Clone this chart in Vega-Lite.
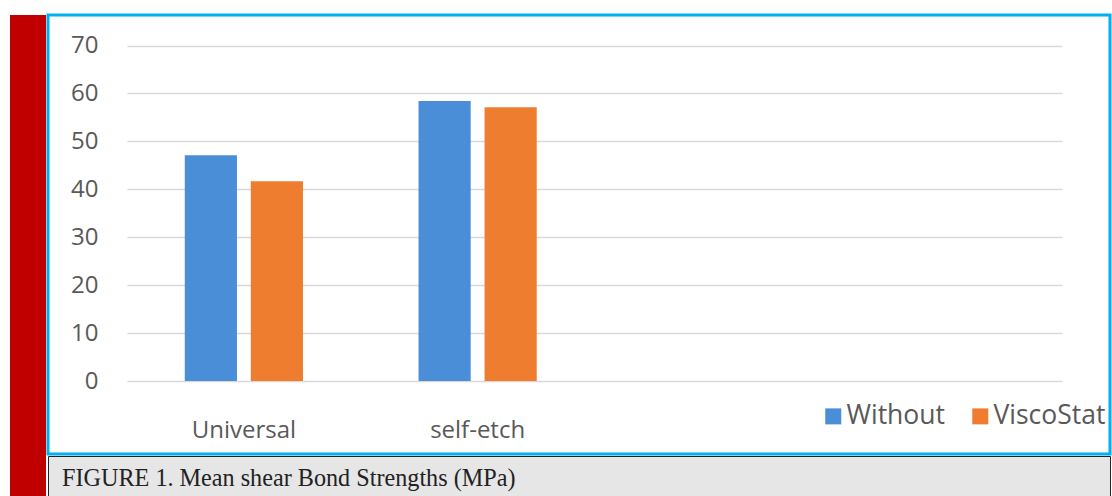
{
  "$schema": "https://vega.github.io/schema/vega-lite/v6.json",
  "background": "white",
  "padding": {"left": 10, "top": 13, "right": 0, "bottom": 0},
  "bounds": "flush",
  "spacing": 2,
  "hconcat": [
    {
      "width": 36,
      "height": 482,
      "view": {"fill": "#c00000", "stroke": null},
      "data": {"values": []},
      "mark": "rect",
      "encoding": {}
    },
    {
      "bounds": "flush",
      "spacing": 2,
      "vconcat": [
        {
          "width": 1062,
          "height": 439,
          "view": {"fill": "white", "stroke": "#00b0f0", "strokeWidth": 3},
          "data": {"values": [
            {"adhesive": "Universal", "group": "Without", "mpa": 47.1},
            {"adhesive": "Universal", "group": "ViscoStat", "mpa": 41.7},
            {"adhesive": "self-etch", "group": "Without", "mpa": 58.4},
            {"adhesive": "self-etch", "group": "ViscoStat", "mpa": 57.1}
          ]},
          "mark": {"type": "bar"},
          "encoding": {
            "x": {
              "field": "adhesive", "type": "nominal",
              "scale": {"domain": ["Universal", "self-etch", " ", "  "], "range": [79, 1014], "paddingInner": 0, "paddingOuter": 0},
              "axis": {"title": null, "domain": false, "ticks": false, "tickSize": 0, "labelPadding": 0, "offset": -17,
                       "labelBaseline": "alphabetic", "labelFont": "Open Sans", "labelFontSize": 24, "labelColor": "#595959", "labelAngle": 0}
            },
            "xOffset": {
              "field": "group", "type": "nominal",
              "scale": {"domain": ["Without", "ViscoStat"], "paddingInner": 0.21, "paddingOuter": 0.875}
            },
            "y": {
              "field": "mpa", "type": "quantitative",
              "scale": {"domain": [0, 70], "range": [366, 30.5], "nice": false},
              "axis": {"title": null, "values": [0, 10, 20, 30, 40, 50, 60, 70], "grid": true, "gridColor": "#d9d9d9", "gridWidth": 1.5,
                       "domain": false, "ticks": false, "tickSize": 0, "labelPadding": 0, "offset": -50,
                       "labelFont": "Open Sans", "labelFontSize": 24, "labelColor": "#595959"}
            },
            "color": {
              "field": "group", "type": "nominal",
              "scale": {"domain": ["Without", "ViscoStat"], "range": ["#4a8ed8", "#ee7d30"]},
              "legend": {"title": null, "orient": "none", "legendX": 810, "legendY": 388, "direction": "horizontal",
                         "symbolType": "square", "symbolSize": 256, "symbolStrokeWidth": 0, "labelOffset": 0, "columnPadding": 22,
                         "labelFont": "Open Sans", "labelFontSize": 26.5, "labelColor": "#595959"}
            }
          }
        },
        {
          "width": 1062,
          "height": 40,
          "view": {"fill": "#e6e6e6", "stroke": "#222222", "strokeWidth": 1},
          "title": {"text": "FIGURE 1. Mean shear Bond Strengths (MPa)", "orient": "top", "anchor": "start", "frame": "group",
                    "offset": -35.5, "dx": 14, "font": "Liberation Serif", "fontSize": 24.2, "fontWeight": "normal", "color": "#222222"},
          "data": {"values": []},
          "mark": "rect",
          "encoding": {}
        }
      ]
    }
  ]
}
